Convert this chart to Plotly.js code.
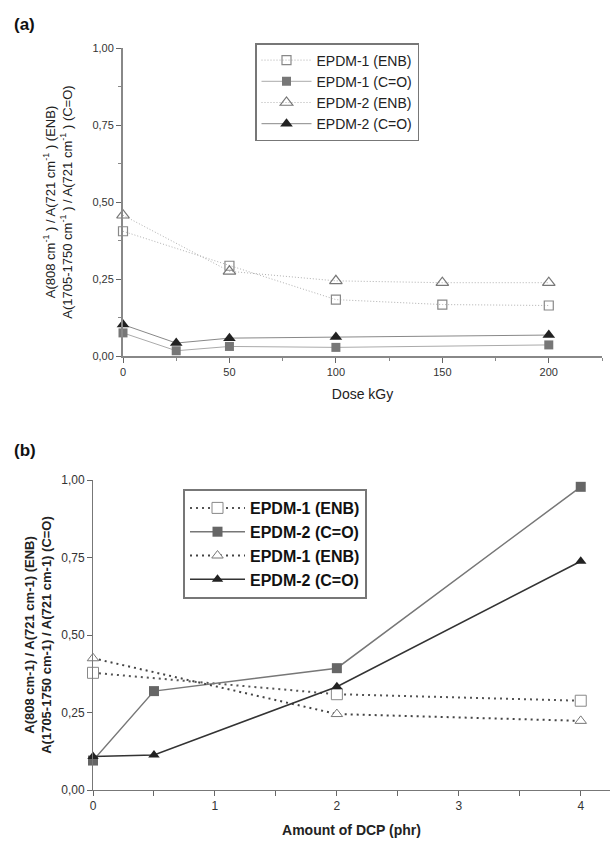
<!DOCTYPE html>
<html>
<head>
<meta charset="utf-8">
<script src="https://cdn.plot.ly/plotly-3.0.1.min.js"></script>
<style>html,body{margin:0;padding:0;background:#fff;}#chart{width:614px;height:845px;}</style>
</head>
<body>
<div id="chart"></div>
<script>
// ---- Panel (a): dose series ----
const doseENB = [0, 50, 100, 150, 200];
const doseCO = [0, 25, 50, 100, 200];
const a_epdm1_enb = [0.405, 0.293, 0.183, 0.167, 0.164];
const a_epdm1_co = [0.075, 0.017, 0.031, 0.028, 0.036];
const a_epdm2_enb = [0.457, 0.275, 0.244, 0.238, 0.238];
const a_epdm2_co = [0.102, 0.042, 0.058, 0.062, 0.068];
const aNames = ["EPDM-1 (ENB)", "EPDM-1 (C=O)", "EPDM-2 (ENB)", "EPDM-2 (C=O)"];

// ---- Panel (b): DCP series ----
const dcpENB = [0, 2, 4];
const dcpCO = [0, 0.5, 2, 4];
const b_epdm1_enb_sq = [0.378, 0.309, 0.288];
const b_epdm2_co_sq = [0.095, 0.319, 0.393, 0.978];
const b_epdm1_enb_tri = [0.425, 0.245, 0.223];
const b_epdm2_co_tri = [0.108, 0.113, 0.333, 0.738];
const bNames = ["EPDM-1 (ENB)", "EPDM-2 (C=O)", "EPDM-1 (ENB)", "EPDM-2 (C=O)"];

const yTicks = [0, 0.25, 0.5, 0.75, 1.0];

const traces = [
  {x: doseENB, y: a_epdm1_enb, name: aNames[0], mode: "lines+markers", xaxis: "x", yaxis: "y", legend: "legend",
   line: {color: "#b0b0b0", width: 1, dash: "1px,2px"},
   marker: {symbol: "square-open", size: 9, color: "#888", line: {width: 1.2}}},
  {x: doseCO, y: a_epdm1_co, name: aNames[1], mode: "lines+markers", xaxis: "x", yaxis: "y", legend: "legend",
   line: {color: "#aaa", width: 1},
   marker: {symbol: "square", size: 9, color: "#777"}},
  {x: doseENB, y: a_epdm2_enb, name: aNames[2], mode: "lines+markers", xaxis: "x", yaxis: "y", legend: "legend",
   line: {color: "#b0b0b0", width: 1, dash: "1px,2px"},
   marker: {symbol: "triangle-up-open", size: 11, color: "#777", line: {width: 1.2}}},
  {x: doseCO, y: a_epdm2_co, name: aNames[3], mode: "lines+markers", xaxis: "x", yaxis: "y", legend: "legend",
   line: {color: "#888", width: 1},
   marker: {symbol: "triangle-up", size: 11, color: "#222"}},

  {x: dcpENB, y: b_epdm1_enb_sq, name: bNames[0], mode: "lines+markers", xaxis: "x2", yaxis: "y2", legend: "legend2",
   line: {color: "#555", width: 2, dash: "2px,4px"},
   marker: {symbol: "square", size: 11, color: "#fff", line: {color: "#888", width: 1}}},
  {x: dcpCO, y: b_epdm2_co_sq, name: bNames[1], mode: "lines+markers", xaxis: "x2", yaxis: "y2", legend: "legend2",
   line: {color: "#777", width: 1.5},
   marker: {symbol: "square", size: 10, color: "#666"}},
  {x: dcpENB, y: b_epdm1_enb_tri, name: bNames[2], mode: "lines+markers", xaxis: "x2", yaxis: "y2", legend: "legend2",
   line: {color: "#444", width: 2, dash: "2px,4px"},
   marker: {symbol: "triangle-up", size: 10, color: "#fff", line: {color: "#777", width: 1}}},
  {x: dcpCO, y: b_epdm2_co_tri, name: bNames[3], mode: "lines+markers", xaxis: "x2", yaxis: "y2", legend: "legend2",
   line: {color: "#333", width: 1.5},
   marker: {symbol: "triangle-up", size: 10, color: "#222"}}
];

const layout = {
  width: 614, height: 845,
  margin: {l: 0, r: 0, t: 0, b: 0},
  paper_bgcolor: "#fff", plot_bgcolor: "#fff",
  separators: ",.",
  font: {family: "Liberation Sans, Arial, sans-serif", color: "#222"},
  showlegend: true,
  xaxis: {
    domain: [123/614, 602/614], range: [0, 225], anchor: "y",
    tickvals: [0, 50, 100, 150, 200], ticks: "outside", ticklen: 5, tickwidth: 1, tickcolor: "#666",
    minor: {dtick: 25, tick0: 0, ticks: "outside", ticklen: 3, tickcolor: "#888", showgrid: false},
    showline: true, linecolor: "#888", linewidth: 2, showgrid: false, zeroline: false,
    tickfont: {size: 11, color: "#333"},
    title: {text: "Dose kGy", font: {size: 14, color: "#222"}, standoff: 12}
  },
  yaxis: {
    domain: [1 - 356/845, 1 - 48/845], range: [0, 1], anchor: "x",
    tickvals: yTicks, tickformat: ".2f", ticks: "outside", ticklen: 5, tickcolor: "#666",
    minor: {dtick: 0.125, tick0: 0, ticks: "outside", ticklen: 3, tickcolor: "#888", showgrid: false},
    showline: true, linecolor: "#888", linewidth: 2, showgrid: false, zeroline: false,
    tickfont: {size: 11, color: "#333"},
    title: {text: "A(808 cm<sup>-1</sup> ) / A(721 cm<sup>-1</sup> ) (ENB)<br>A(1705-1750 cm<sup>-1</sup> ) / A(721 cm<sup>-1</sup> ) (C=O)", font: {size: 13, color: "#222"}, standoff: 17}
  },
  xaxis2: {
    domain: [93/614, 610/614], range: [0, 4.24], anchor: "y2",
    tickvals: [0, 1, 2, 3, 4], ticks: "outside", ticklen: 5, tickcolor: "#666",
    minor: {dtick: 0.5, tick0: 0, ticks: "outside", ticklen: 5, tickcolor: "#666", showgrid: false},
    showline: true, linecolor: "#777", linewidth: 1, showgrid: false, zeroline: false,
    tickfont: {size: 12, color: "#333"},
    title: {text: "<b>Amount of DCP (phr)</b>", font: {size: 14, color: "#222"}, standoff: 12}
  },
  yaxis2: {
    domain: [1 - 790/845, 1 - 480/845], range: [0, 1], anchor: "x2",
    tickvals: yTicks, tickformat: ".2f", ticks: "outside", ticklen: 5, tickcolor: "#666",
    showline: true, linecolor: "#777", linewidth: 1, showgrid: false, zeroline: false,
    tickfont: {size: 12, color: "#333"},
    title: {text: "<b>A(808 cm-1) / A(721 cm-1) (ENB)<br>A(1705-1750 cm-1) / A(721 cm-1) (C=O)</b>", font: {size: 13, color: "#222"}, standoff: 6}
  },
  legend: {
    x: 255/614, y: 1 - 43/845, xanchor: "left", yanchor: "top",
    bordercolor: "#777", borderwidth: 1.5, bgcolor: "#fff",
    font: {size: 14, color: "#222"}, tracegroupgap: 0, itemwidth: 50
  },
  legend2: {
    x: 183/614, y: 1 - 489/845, xanchor: "left", yanchor: "top",
    bordercolor: "#777", borderwidth: 2, bgcolor: "#fff",
    font: {size: 16, color: "#111", weight: "bold"}, tracegroupgap: 0, itemwidth: 55
  },
  annotations: [
    {text: "<b>(a)</b>", xref: "paper", yref: "paper", x: 12/614, y: 1 - 13/845, xanchor: "left", yanchor: "top", showarrow: false, font: {size: 17, color: "#111"}},
    {text: "<b>(b)</b>", xref: "paper", yref: "paper", x: 12/614, y: 1 - 439/845, xanchor: "left", yanchor: "top", showarrow: false, font: {size: 17, color: "#111"}}
  ]
};

traces.forEach(t => { t.cliponaxis = false; });
Plotly.newPlot("chart", traces, layout, {displayModeBar: false, staticPlot: true});
</script>
</body>
</html>
